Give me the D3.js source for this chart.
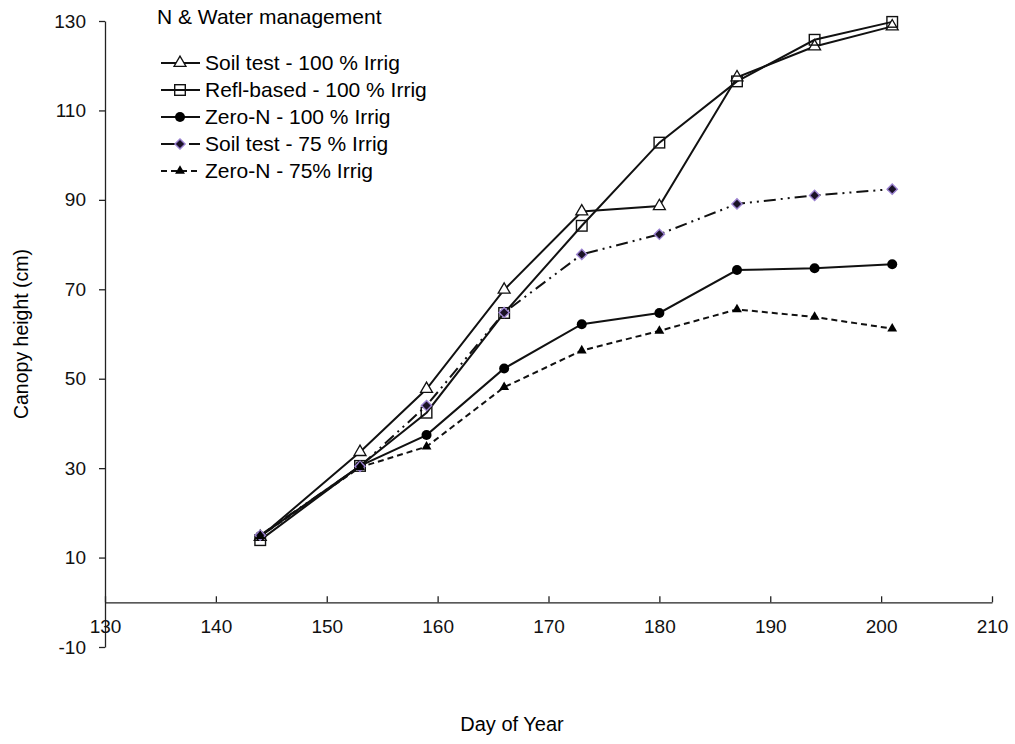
<!DOCTYPE html>
<html>
<head>
<meta charset="utf-8">
<script src="https://cdn.jsdelivr.net/npm/d3@7"></script>
<style>
  body { margin: 0; background: #fff; }
  svg { font-family: "Liberation Sans", Arial, sans-serif; }
  .axis path, .axis line { stroke: #222; stroke-width: 1.3; }
  .axis text { font-size: 19px; fill: #111; }
</style>
</head>
<body>
<svg></svg>
<script>
// day of year when canopy height was measured
const days = [144, 153, 159, 166, 173, 180, 187, 194, 201];

// canopy height (cm) for each treatment
const soilTest100 = [14.6, 33.6, 47.7, 69.9, 87.4, 88.6, 117.4, 124.3, 128.8];
const reflBased100 = [13.9, 30.5, 42.4, 64.7, 84.2, 102.8, 116.5, 125.8, 129.8];
const zeroN100 = [14.8, 30.5, 37.4, 52.3, 62.2, 64.7, 74.3, 74.7, 75.6];
const soilTest75 = [15.0, 30.4, 44.0, 64.8, 77.8, 82.3, 89.1, 91.0, 92.4];
const zeroN75 = [14.8, 30.2, 34.8, 48.1, 56.3, 60.7, 65.5, 63.8, 61.2];

const seriesNames = ["Soil test - 100 % Irrig", "Refl-based - 100 % Irrig", "Zero-N - 100 % Irrig",
  "Soil test - 75 % Irrig", "Zero-N - 75% Irrig"];
const xTicks = [130, 140, 150, 160, 170, 180, 190, 200, 210];
const yTicks = [-10, 10, 30, 50, 70, 90, 110, 130];

const series = [
  { name: seriesNames[0], values: soilTest100, marker: "triOpen", dash: null },
  { name: seriesNames[1], values: reflBased100, marker: "square", dash: null },
  { name: seriesNames[2], values: zeroN100, marker: "circle", dash: null },
  { name: seriesNames[3], values: soilTest75, marker: "diamond", dash: "12,5,2,5,2,5" },
  { name: seriesNames[4], values: zeroN75, marker: "triFill", dash: "6,4" }
];

const width = 1015, height = 744;
const svg = d3.select('svg').attr('width', width).attr('height', height);

const xScale = d3.scaleLinear().domain([130, 210]).range([105, 992]);
const yScale = d3.scaleLinear().domain([-10, 130]).range([647, 21]);

// axes
const yAxis = d3.axisLeft(yScale).tickValues(yTicks).tickSize(6).tickPadding(13)
  .tickSizeOuter(0).tickFormat(d => String(d));
svg.append('g').attr('class', 'axis').attr('transform', `translate(${xScale(130)},0)`).call(yAxis);

const xAxis = d3.axisBottom(xScale).tickValues(xTicks).tickSize(-6).tickPadding(17)
  .tickSizeOuter(0).tickFormat(d => String(d));
svg.append('g').attr('class', 'axis').attr('transform', `translate(0,${yScale(0)})`).call(xAxis);

svg.append('text')
  .attr('transform', `translate(28,${yScale(60)}) rotate(-90)`)
  .attr('text-anchor', 'middle')
  .style('font-size', '19.5px')
  .text('Canopy height (cm)');

svg.append('text')
  .attr('x', 512).attr('y', 731)
  .attr('text-anchor', 'middle')
  .style('font-size', '20px')
  .text('Day of Year');

// markers
const drawMarker = (sel, type) => {
  if (type === "triOpen") {
    sel.append('path').attr('d', d3.symbol(d3.symbolTriangle, 62)())
      .attr('fill', '#fff').attr('stroke', '#111').attr('stroke-width', 1.3);
  } else if (type === "square") {
    sel.append('rect').attr('x', -5.3).attr('y', -5.3).attr('width', 10.6).attr('height', 10.6)
      .attr('fill', 'none').attr('stroke', '#111').attr('stroke-width', 1.4);
  } else if (type === "circle") {
    sel.append('circle').attr('r', 5).attr('fill', '#000');
  } else if (type === "diamond") {
    sel.append('rect').attr('x', -3.6).attr('y', -3.6).attr('width', 7.2).attr('height', 7.2)
      .attr('transform', 'rotate(45)')
      .attr('fill', '#1a1226').attr('stroke', '#9b82d0').attr('stroke-width', 1.4);
  } else if (type === "triFill") {
    sel.append('path').attr('d', d3.symbol(d3.symbolTriangle, 42)()).attr('fill', '#000');
  }
};

const line = d3.line().x((d, i) => xScale(days[i])).y(d => yScale(d));

const plot = svg.append('g');
series.forEach(s => {
  plot.append('path')
    .datum(s.values)
    .attr('d', line)
    .attr('fill', 'none')
    .attr('stroke', '#111')
    .attr('stroke-width', 2)
    .attr('stroke-dasharray', s.dash);
});
series.forEach(s => {
  s.values.forEach((v, i) => {
    const m = plot.append('g').attr('transform', `translate(${xScale(days[i])},${yScale(v)})`);
    drawMarker(m, s.marker);
  });
});

// legend
const legend = svg.append('g');
legend.append('text').attr('x', 157).attr('y', 24).style('font-size', '21px').text('N & Water management');
series.forEach((s, i) => {
  const y = 63 + i * 27;
  const row = legend.append('g').attr('transform', `translate(0,${y})`);
  row.append('line').attr('x1', 161).attr('x2', 200).attr('y1', 0).attr('y2', 0)
    .attr('stroke', '#111').attr('stroke-width', 1.8)
    .attr('stroke-dasharray', i === 3 ? "14,6,2,6" : s.dash);
  drawMarker(row.append('g').attr('transform', 'translate(180,0)'), s.marker);
  row.append('text').attr('x', 205).attr('y', 7).style('font-size', '21px').text(s.name);
});
</script>
</body>
</html>
